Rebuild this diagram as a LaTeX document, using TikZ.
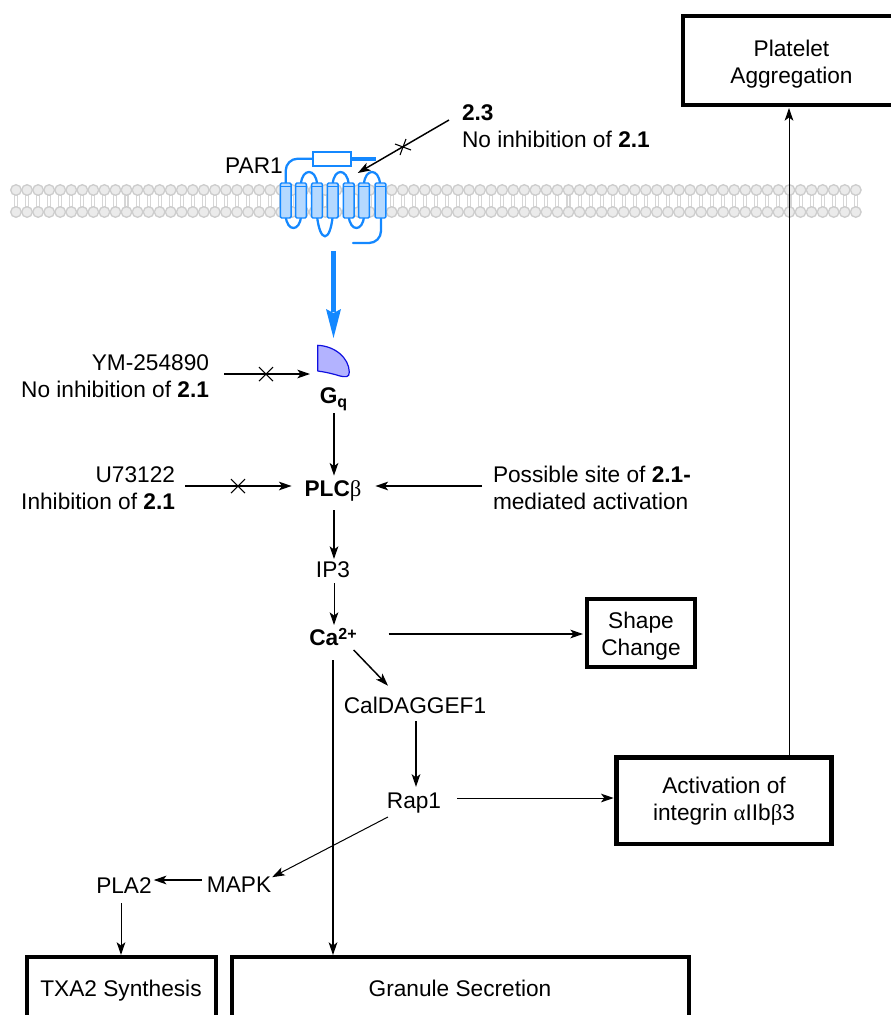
\documentclass[tikz,border=0pt]{standalone}
\usepackage{fontspec}
\setmainfont{Liberation Sans}
\newfontfamily\grk{Liberation Serif}
\usetikzlibrary{arrows.meta,calc}
\definecolor{memfill}{HTML}{EBEBEB}
\definecolor{memline}{HTML}{CDCDCD}
\definecolor{tailline}{HTML}{D6D6D6}
\definecolor{recblue}{HTML}{1488FF}
\definecolor{recfill}{HTML}{B5D9FF}
\definecolor{gfill}{HTML}{B3B3FF}
\definecolor{gline}{HTML}{1010E0}
\newcommand{\lab}{\fontsize{17}{20.25}\selectfont}
\newcommand{\raisedbit}[2]{\raisebox{#1}{\fontsize{12}{12}\selectfont\bfseries #2}}
\tikzset{
  x=0.75pt,y=-0.75pt,
  txt/.style={inner sep=0pt,outer sep=0pt,font=\lab},
  outcome/.style={draw,line width=3.5pt,inner sep=0pt,outer sep=0pt,font=\lab,align=center},
  openbox/.style={line width=3.5pt},
  arr/.style={line width=1.1pt,-{Stealth[length=9.5pt,width=6.5pt,inset=2.4pt]}},
  thinarr/.style={line width=0.75pt,-{Stealth[length=9.5pt,width=6.5pt,inset=2.4pt]}},
  cross/.style={line width=0.8pt},
  head/.style={fill=memfill,draw=memline,line width=1pt},
  tail/.style={draw=tailline,line width=0.8pt},
  loopline/.style={draw=recblue,line width=1.7pt,line cap=round},
  helix/.style={draw=recblue,fill=recfill,line width=1.1pt,rounded corners=1pt}
}
\begin{document}
\begin{tikzpicture}
\useasboundingbox (0,0) rectangle (890,1015);

% lipid bilayer
\foreach \i in {0,...,76}{
  \pgfmathsetmacro{\hx}{16+11.05*\i}
  \draw[tail] (\hx-1.5,195) -- (\hx-1.5,207) (\hx+1.5,195) -- (\hx+1.5,207);
  \filldraw[head] (\hx,190) circle (5.3);
  \filldraw[head] (\hx,212) circle (5.3);
}

% PAR1 receptor: extracellular tail, loops and C-terminus
\draw[loopline,rounded corners=9pt] (285.7,184) -- (285.7,158.7) -- (314,158.7);
\draw[draw=recblue,line width=2.6pt] (352,159) -- (376,159);
\draw[loopline] (301,184) .. controls (302,168) and (316,168) .. (317,184);
\draw[loopline] (332.7,184) .. controls (334,168) and (347,168) .. (348.7,184);
\draw[loopline] (364,184) .. controls (365,168) and (379,168) .. (380,184);
\draw[loopline] (285.7,216) .. controls (287,232) and (300,232) .. (301,216);
\draw[loopline] (317,216) .. controls (320,243) and (330,243) .. (332.7,216);
\draw[loopline] (348.7,216) .. controls (350,232) and (363,232) .. (364,216);
\draw[loopline,rounded corners=9pt] (381,216) -- (381,243) -- (353,243);
\foreach \hx in {285.7,301,317,332.7,348.7,364,380.5}{
  \filldraw[helix] (\hx-5.4,183) rectangle (\hx+5.4,218);
  \draw[draw=recblue,line width=0.6pt] (\hx-5.4,186) -- (\hx+5.4,186);
}
\draw[draw=recblue,fill=white,line width=1pt] (313,152) rectangle (351,166);
\node[txt] (par) at (254,166) {PAR1};

% signal from the receptor to the G protein
\coordinate (recout) at (333.5,251);
\coordinate (gqtop) at (333.5,338);
\draw[draw=recblue,line width=3.7pt] (recout) -- (333.5,312);
\fill[recblue] (gqtop) -- (326,309) -- (333.5,313) -- (341,309) -- cycle;
\draw[draw=gline,fill=gfill,line width=0.9pt,line join=round]
  (317.7,345.3) .. controls (335,346) and (349,358) .. (349.3,372)
  .. controls (349.5,378) and (345,377) .. (340,376) .. controls (332,373.5) and (325,372) .. (317.7,371) -- cycle;

% pathway labels
\node[txt,anchor=west,align=left] (inh23) at (462,126) {\textbf{2.3}\\No inhibition of \textbf{2.1}};
\node[txt,anchor=east,align=right] (ym) at (209,376) {YM-254890\\No inhibition of \textbf{2.1}};
\node[txt,anchor=east,align=right] (u73) at (175,488) {U73122\\Inhibition of \textbf{2.1}};
\node[txt,anchor=west,align=left] (site) at (493,488) {Possible site of \textbf{2.1-}\\mediated activation};
\node[txt] (gq) at (333.5,399) {\textbf{G}\raisedbit{-3pt}{q}};
\node[txt] (plc) at (333,491) {\textbf{PLC}{\grk β}};
\node[txt] (ip3) at (333,570) {IP3};
\node[txt] (ca) at (333,637) {\textbf{Ca}\raisedbit{5pt}{2+}};
\node[txt] (cal) at (415,705) {CalDAGGEF1};
\node[txt] (rap) at (414,803) {Rap1};
\node[txt] (mapk) at (239,885) {MAPK};
\node[txt] (pla) at (124,886) {PLA2};

% outcome boxes; the top one runs off the right-hand side of the page
\node[outcome,minimum width=162.75pt,minimum height=66.75pt] (plat) at (791.5,60.5) {\rule{0pt}{18.3pt}Platelet\\Aggregation};
\node[outcome,minimum width=81pt,minimum height=51pt] (shape) at (641,633) {\rule{0pt}{16.4pt}Shape\\Change};
\node[outcome,minimum width=161pt,minimum height=65pt] (act) at (724,800.5) {\rule{0pt}{13.5pt}Activation of\\integrin {\grk α}IIb{\grk β}3};
\node[txt] (txa) at (121,990.5) {TXA2 Synthesis};
\node[txt] (gran) at (460,988.5) {Granule Secretion};
\draw[openbox] (27,1030) |- (216,957) -- (216,1030);
\draw[openbox] (232,1030) |- (689,957) -- (689,1030);

% connectors
\draw[arr] ($(inh23.west)+(-13,-6)$) -- ($(par.east)+(75,7)$);
\coordinate (xa) at (403,147);
\draw[cross] ($(xa)+(-8,-3)$) -- ($(xa)+(8,3)$) ($(xa)+(-3,8)$) -- ($(xa)+(3,-8)$);
\draw[arr] ($(ym.east)+(15,-2)$) -- ($(ym.east)+(101,-2)$);
\coordinate (xb) at (266,374);
\draw[cross] ($(xb)+(-7,-7)$) -- ($(xb)+(7,7)$) ($(xb)+(-7,7)$) -- ($(xb)+(7,-7)$);
\draw[arr] (334,413) -- ($(plc.north)+(1,-5)$);
\draw[arr] ($(u73.east)+(10,-2)$) -- ($(plc.west)+(-13,-5)$);
\coordinate (xc) at (238,486);
\draw[cross] ($(xc)+(-7,-7)$) -- ($(xc)+(7,7)$) ($(xc)+(-7,7)$) -- ($(xc)+(7,-7)$);
\draw[arr] ($(site.west)+(-11,-2)$) -- ($(plc.east)+(14,-5)$);
\draw[arr] ($(plc.south)+(1,9)$) -- ($(ip3.north)+(1,-3)$);
\draw[thinarr] ($(ip3.south)+(1,5)$) -- ($(ca.north)+(1,-3)$);
\draw[arr] ($(ca.east)+(32,-3)$) -- ($(shape.west)+(-4,1)$);
\draw[arr] ($(ca.east)+(-3,13)$) -- ($(cal.north)+(-27,-11)$);
\draw[arr] ($(cal.south)+(1,8)$) -- ($(rap.north)+(2,-6)$);
\draw[thinarr] ($(rap.east)+(16,-5)$) -- ($(act.west)+(-3,-2.5)$);
\draw[thinarr] ($(act.north)+(65,-2)$) -- ($(plat.south)+(-2.5,3)$);
\draw[thinarr] ($(rap.west)+(1,14)$) -- ($(mapk.north east)+(1,0)$);
\draw[arr] ($(mapk.west)+(-5,-5)$) -- ($(pla.east)+(2,-6)$);
\draw[thinarr] (121,903) -- ($(txa.north)+(0,-25)$);
\draw[arr] ($(ca.south)+(0,14)$) -- ($(ca.south)+(0,309)$);
\end{tikzpicture}
\end{document}
